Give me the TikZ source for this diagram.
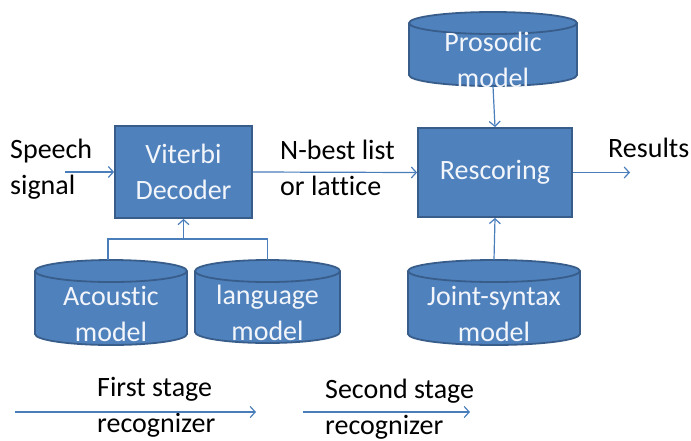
\documentclass[tikz,border=0pt]{standalone}
\usepackage{fontspec}
\setmainfont[Ligatures=NoCommon]{Carlito}
\usetikzlibrary{arrows.meta}
\definecolor{boxfill}{HTML}{4F81BD}
\definecolor{boxline}{HTML}{385D8A}
\definecolor{arrowc}{HTML}{4A7EBB}
\definecolor{txtlight}{HTML}{F2F5FA}

% database cylinder: name, centre x, top y, bottom y, half width, text
\newcommand\dbcyl[6]{%
  \filldraw[cylstyle] (#2,{#4-11}) ellipse [x radius=#5, y radius=11];
  \fill[boxfill] ({#2-#5},{#3+11}) rectangle ({#2+#5},{#4-11});
  \draw[cylstyle] ({#2-#5},{#3+11}) -- ({#2-#5},{#4-11});
  \draw[cylstyle] ({#2+#5},{#3+11}) -- ({#2+#5},{#4-11});
  \filldraw[cylstyle] (#2,{#3+11}) ellipse [x radius=#5, y radius=11];
  \node[inner sep=0, minimum width={2*#5}, minimum height={#4-#3}] (#1) at (#2,{(#3+#4)/2}) {};
  \node[dbtext] (#1-t) at (#2,{(#3+22+#4)/2}) {#6};
}

\begin{document}
\begin{tikzpicture}[x=1pt,y=-1pt,
  every node/.style={font=\fontsize{28}{36}\selectfont},
  procbox/.style={draw=boxline, line width=1.8pt, fill=boxfill, text=txtlight, align=center, inner sep=0},
  cylstyle/.style={draw=boxline, line width=1.8pt, fill=boxfill},
  dbtext/.style={text=txtlight, align=center, inner sep=0},
  lbl/.style={align=left, inner sep=0, text=black, anchor=west},
  flow/.style={draw=arrowc, line width=1.2pt, -{Straight Barb[length=5pt,width=11pt]}},
  link/.style={draw=arrowc, line width=1.2pt}
]
\useasboundingbox (0,0) rectangle (691,440);

% processing boxes
\node[procbox, minimum width=137pt, minimum height=92pt] (viterbi) at (183.5,172) {Viterbi\\Decoder};
\node[procbox, minimum width=154pt, minimum height=89pt] (resc) at (495,172.5) {Rescoring};

% model stores
\dbcyl{pros}{493}{12}{86}{84}{Prosodic\\model}
\dbcyl{acoustic}{111}{260}{345}{76}{Acoustic\\model}
\dbcyl{lang}{267.5}{260}{343}{72.5}{language\\model}
\dbcyl{joint}{494}{260}{345}{86}{Joint-syntax\\model}

% text labels
\node[lbl] (speech) at (10,169) {Speech\\signal};
\node[lbl] (nbest) at (280,168) {N-best list\\or lattice};
\node[lbl] (results) at (608,148) {Results};
\node[lbl] (stage1) at (97,407) {First stage\\recognizer};
\node[lbl] (stage2) at (325,409) {Second stage\\recognizer};

% main signal flow
\coordinate (sin) at (65,172);
\coordinate (rout) at (630,172.5);
\draw[flow] (sin) -- (viterbi.west |- sin);
\draw[flow] (viterbi.east) -- (resc.west);
\draw[flow] (resc.east) -- (rout);

% model inputs
\draw[flow] (pros.south) -- (resc.north);
\draw[flow] (joint.north) -- (resc.south);
\coordinate (join) at (183.5,239);
\draw[link] (acoustic.north -| 108,0) |- (join) -| (lang.north);
\draw[flow] (join) -- (viterbi.south);

% stage arrows
\coordinate (s1a) at (15,412);
\coordinate (s1b) at (256,412);
\coordinate (s2a) at (303,412);
\coordinate (s2b) at (470,412);
\draw[flow] (s1a) -- (s1b);
\draw[flow] (s2a) -- (s2b);
\end{tikzpicture}
\end{document}
